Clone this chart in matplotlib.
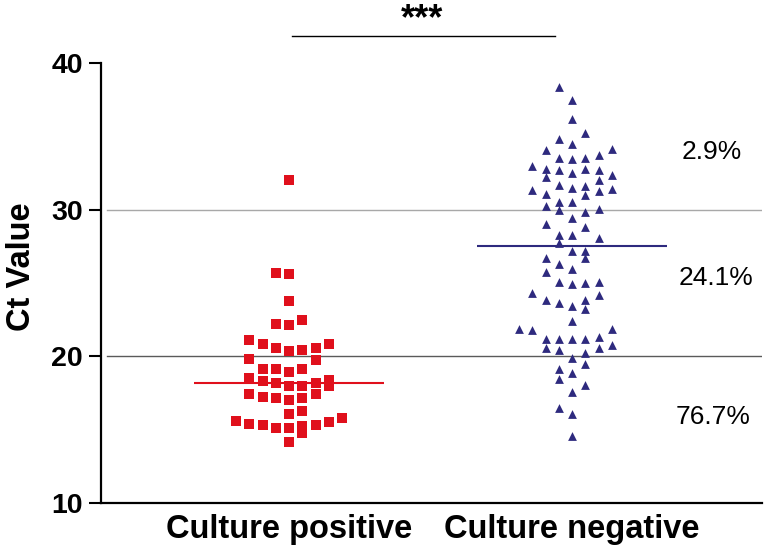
import numpy as np
import matplotlib
matplotlib.use("Agg")
import matplotlib.pyplot as plt

plt.rcParams['font.family'] = ['Liberation Sans', 'DejaVu Sans']

groups = ["Culture positive", "Culture negative"]

# Ct values, with the swarm column each point sits in
pos_ct = [32.0, 25.7, 25.6, 23.8, 22.2, 22.15, 22.45,
          21.1, 20.85, 20.55, 20.35, 20.45, 20.6, 20.85,
          19.85, 19.75, 19.15, 19.15, 18.95, 19.15,
          18.55, 18.3, 18.2, 17.95, 18.0, 18.2, 18.4, 17.95,
          17.4, 17.25, 17.15, 17.05, 17.15, 17.4,
          16.1, 16.3,
          15.6, 15.4, 15.3, 15.1, 15.1, 15.25, 14.75, 15.35, 15.5, 15.8,
          14.15]
pos_col = [0, -1, 0, 0, -1, 0, 1,
           -3, -2, -1, 0, 1, 2, 3,
           -3, 2, -2, -1, 0, 1,
           -3, -2, -1, 0, 1, 2, 3, 3,
           -3, -2, -1, 0, 1, 2,
           0, 1,
           -4, -3, -2, -1, 0, 1, 1, 2, 3, 4,
           0]

neg_ct = [38.35, 37.45, 36.15, 35.2, 34.85, 34.5, 34.05, 34.15,
          33.5, 33.45, 33.5, 33.75, 33.0, 32.8, 32.25, 32.7, 32.5, 32.8,
          32.7, 32.0, 32.35, 31.35, 31.1, 31.7, 31.5, 31.6, 31.0, 31.3,
          31.4, 30.25, 30.55, 29.95, 30.5, 29.85, 30.05, 29.05, 29.4,
          28.8, 28.25, 28.25, 28.05, 27.75,
          27.15, 27.15, 26.7, 26.7, 26.3, 25.95, 25.75, 25.1, 24.95, 25.0,
          25.1, 24.3, 23.85, 23.65, 23.4, 23.85, 23.25, 24.15, 22.4,
          21.85, 21.8, 21.85, 21.2, 21.2, 21.2, 21.2, 21.35, 20.8,
          20.6, 20.45, 20.55, 20.25, 19.9, 19.5, 19.15, 18.85, 18.45,
          18.05, 17.55, 16.45, 16.1, 14.6]
neg_col = [-1, 0, 0, 1, -1, 0, -2, 3,
           -1, 0, 1, 2, -3, -2, -2, -1, 0, 1,
           2, 2, 3, -3, -2, -1, 0, 1, 1, 2,
           3, -2, -1, -1, 0, 1, 2, -2, 0,
           1, -1, 0, 2, -1,
           0, 1, 1, -2, -1, 0, -2, -1, 0, 1,
           2, -3, -2, -1, 0, 1, 1, 2, 0,
           -4, -3, 3, -2, -1, 0, 1, 2, 3,
           -2, -1, 2, 1, 0, 1, -1, 0, -1,
           1, 0, -1, 0, 0]

medians = [18.2, 27.5]
percent_labels = ["2.9%", "24.1%", "76.7%"]
percent_y = [33.95, 25.35, 15.85]
percent_x = [2.495, 2.51, 2.498]

fig = plt.figure(figsize=(7.64, 5.54), dpi=100)
ax = fig.add_axes([0.1322, 0.0921, 0.8652, 0.7942])

step = 0.0468
red = '#e0101c'
navy = '#2e2a7e'

ax.scatter(1 + np.array(pos_col) * step, pos_ct, marker='s', s=50,
           color=red, linewidths=0, zorder=3)
ax.scatter(2 + np.array(neg_col) * step, neg_ct, marker='^', s=40,
           color=navy, linewidths=0, zorder=3)

ax.hlines(medians[0], 1 - 0.336, 1 + 0.336, color=red, lw=1.5, zorder=4)
ax.hlines(medians[1], 2 - 0.336, 2 + 0.336, color=navy, lw=1.5, zorder=4)

ax.axhline(30, xmin=0.0086, color='#a8a8a8', lw=1, zorder=1)
ax.axhline(20, xmin=0.0086, color='#5a5a5a', lw=1, zorder=1)

ax.set_xlim(0.3357, 2.671)
ax.set_ylim(10, 40)
ax.set_yticks([10, 20, 30, 40])
ax.set_xticks([1, 2])
ax.set_xticklabels(groups)

for s in ['top', 'right']:
    ax.spines[s].set_visible(False)
for s in ['left', 'bottom']:
    ax.spines[s].set_linewidth(1.6)

ax.tick_params(axis='y', length=9, width=1.5, labelsize=20.5, pad=4)
ax.tick_params(axis='x', length=0, labelsize=23.5, pad=8)
for lab in ax.get_xticklabels() + ax.get_yticklabels():
    lab.set_fontweight('bold')

ax.set_ylabel("Ct Value", fontsize=23.5, fontweight='bold')
ax.yaxis.set_label_coords(-0.097, 0.536)

# significance bar
ax.plot([1.011, 1.94], [41.84, 41.84], color='black', lw=1, clip_on=False)
fig.text(422.5 / 764, 0.9477, "***", ha='center', va='baseline',
         fontsize=26, fontweight='bold')

for t, xv, yv in zip(percent_labels, percent_x, percent_y):
    ax.text(xv, yv, t, ha='center', va='center', fontsize=19)

fig.savefig("out.png", dpi=100)
